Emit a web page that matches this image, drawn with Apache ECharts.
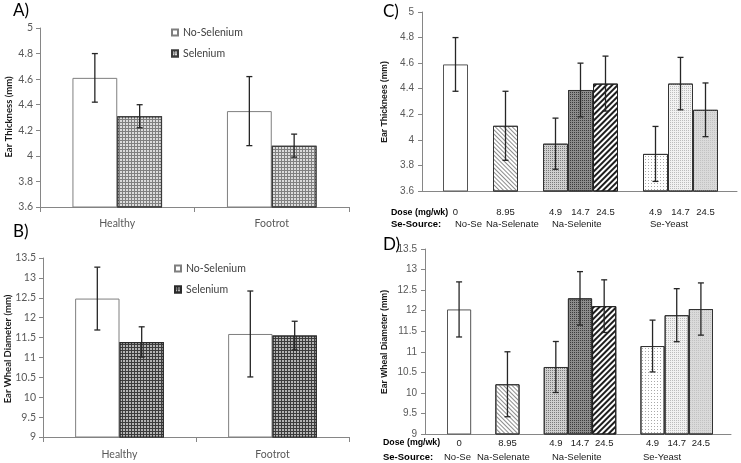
<!DOCTYPE html>
<html><head><meta charset="utf-8">
<script src="https://cdn.jsdelivr.net/npm/echarts@6/dist/echarts.min.js"></script>
<style>html,body{margin:0;padding:0;background:#fff}#c{width:741px;height:463px}</style>
</head><body><div id="c"></div>
<script>
// ---------- data ----------
const groupCategories = ['Healthy', 'Footrot'];
const legendNames = ['No-Selenium', 'Selenium'];
// Panel A: ear thickness (mm)
const thicknessNoSe = [4.61, 4.35];
const thicknessNoSeErr = [0.19, 0.27];
const thicknessSe = [4.31, 4.08];
const thicknessSeErr = [0.09, 0.09];
// Panel B: ear wheal diameter (mm)
const whealNoSe = [12.48, 11.59];
const whealNoSeErr = [0.79, 1.08];
const whealSe = [11.39, 11.55];
const whealSeErr = [0.38, 0.36];
// Panels C/D: by dose & source (blank slots separate the sources)
const doseLabels = ['0', '', '8.95', '', '4.9', '14.7', '24.5', '', '4.9', '14.7', '24.5'];
const sourceLabels = ['No-Se', 'Na-Selenate', 'Na-Selenite', 'Se-Yeast'];
const doseThickness = [4.59, null, 4.11, null, 3.97, 4.39, 4.44, null, 3.89, 4.44, 4.235];
const doseThicknessErr = [0.21, null, 0.27, null, 0.20, 0.21, 0.215, null, 0.215, 0.205, 0.21];
const doseWheal = [12.03, null, 10.21, null, 10.63, 12.30, 12.11, null, 11.14, 11.89, 12.04];
const doseWhealErr = [0.67, null, 0.79, null, 0.62, 0.65, 0.64, null, 0.63, 0.645, 0.635];
// axis scales
const thicknessAxis = {min: 3.6, max: 5, interval: 0.2};
const whealAxis = {min: 9, max: 13.5, interval: 0.5};

// ---------- styles ----------
const AX = '#868686', LBL = '#595959';
const CAL = 'Lato', ARI = 'Liberation Sans';
function dec(color, dx, dy, rot) {
  return {symbol: 'rect', symbolSize: 1, dashArrayX: dx, dashArrayY: dy, rotation: rot || 0, color: color};
}
const doseStyles = [
  {color: '#ffffff', borderColor: '#555', borderWidth: 1},
  null,
  {color: '#ffffff', borderColor: '#333', borderWidth: 1, decal: dec('#8c8c8c', [1, 0], [1, 2], Math.PI / 4)},
  null,
  {color: '#cfcfcf', borderColor: '#333', borderWidth: 1, decal: dec('#7a7a7a', [1, 1], [1, 1])},
  {color: '#8c8c8c', borderColor: '#333', borderWidth: 1, decal: dec('#3c3c3c', [1, 1], [1, 1])},
  {color: '#ffffff', borderColor: '#222', borderWidth: 1, decal: dec('#1e1e1e', [1, 0], [1.5, 2], -Math.PI / 4)},
  null,
  {color: '#ffffff', borderColor: '#333', borderWidth: 1, decal: dec('#a8a8a8', [1, 2], [1, 2])},
  {color: '#f2f2f2', borderColor: '#333', borderWidth: 1, decal: dec('#bdbdbd', [1, 1], [1, 1])},
  {color: '#dadada', borderColor: '#333', borderWidth: 1, decal: dec('#c2c2c2', [1, 1], [1, 1])}
];
const noSeStyle = {color: '#ffffff', borderColor: '#7f7f7f', borderWidth: 1};
const seStyleA = {color: '#808080', borderColor: '#3a3a3a', borderWidth: 1.2, decal: dec('#dcdcdc', [2, 1], [2, 1])};
const seStyleB = {color: '#3c3c3c', borderColor: '#2a2a2a', borderWidth: 1.2, decal: dec('#b4b4b4', [2, 1], [2, 1])};

const CAT_GAP = 0.42;           // barCategoryGap fraction for panels A/B
const BAR_FRAC = (1 - CAT_GAP) / 2;

function errRender(offsetFrac) {
  return function (params, api) {
    const x = api.value(0), v = api.value(1), e = api.value(2);
    const c = api.coord([x, v]);
    const band = api.size([1, 0])[0];
    const cx = c[0] + offsetFrac * band;
    const top = api.coord([x, v + e])[1];
    const bot = api.coord([x, v - e])[1];
    const cap = 3;
    const style = {stroke: '#262626', lineWidth: 1.3};
    return {type: 'group', children: [
      {type: 'line', shape: {x1: cx, y1: top, x2: cx, y2: bot}, style: style},
      {type: 'line', shape: {x1: cx - cap, y1: top, x2: cx + cap, y2: top}, style: style},
      {type: 'line', shape: {x1: cx - cap, y1: bot, x2: cx + cap, y2: bot}, style: style}
    ]};
  };
}
function errData(vals, errs) {
  const out = [];
  vals.forEach(function (v, i) { if (v != null) out.push([i, v, errs[i]]); });
  return out;
}

function valAxis(grid, scale, font, size, margin, show) {
  return {type: 'value', gridIndex: grid, min: scale.min, max: scale.max, interval: scale.interval, show: show !== false,
    axisLine: {show: true, lineStyle: {color: AX}}, axisTick: {show: true, length: 4, lineStyle: {color: AX}},
    splitLine: {show: false},
    axisLabel: {color: LBL, fontFamily: font, fontSize: size, margin: margin}};
}
function groupAxis(grid, margin) {
  return {type: 'category', gridIndex: grid, data: groupCategories,
    axisLine: {lineStyle: {color: AX}}, axisTick: {show: true, length: 5, lineStyle: {color: AX}},
    axisLabel: {color: LBL, fontFamily: CAL, fontSize: 10.5, margin: margin}};
}
function frameX(grid) {
  return {type: 'category', gridIndex: grid, data: [''], axisLine: {lineStyle: {color: AX}},
    axisTick: {show: false}, axisLabel: {show: false}};
}
function doseX(grid, margin) {
  return {type: 'category', gridIndex: grid, data: doseLabels, axisLine: {show: false}, axisTick: {show: false},
    axisLabel: {interval: 0, color: '#1a1a1a', fontFamily: ARI, fontSize: 9.5, margin: margin}};
}
function doseBars(xi, vals) {
  return {type: 'bar', xAxisIndex: xi, yAxisIndex: xi, barCategoryGap: '0%',
    data: vals.map(function (v, i) { return v == null ? '-' : {value: v, itemStyle: doseStyles[i]}; })};
}
function txt(x, y, text, o) {
  o = o || {};
  return {type: 'text', x: x, y: y, rotation: o.rot || 0, silent: true,
    style: {text: text, fill: o.fill || '#000', fontSize: o.size || 9.5, fontFamily: o.font || ARI,
      fontWeight: o.weight || 'normal', align: o.align || 'left', verticalAlign: 'middle',
      textAlign: o.align || 'left', textVerticalAlign: 'middle'}};
}

const chart = echarts.init(document.getElementById('c'), null, {renderer: 'canvas'});
const graphics = [
  txt(13, 11, 'A)', {font: CAL, size: 17}),
  txt(13, 232, 'B)', {font: CAL, size: 17}),
  txt(383, 12, 'C)', {font: CAL, size: 17}),
  txt(383, 245, 'D)', {font: CAL, size: 17}),
  txt(9, 117, 'Ear Thickness (mm)', {font: CAL, size: 9.5, weight: 'bold', align: 'center', rot: Math.PI / 2, fill: '#1a1a1a'}),
  txt(8, 349, 'Ear Wheal Diameter (mm)', {font: CAL, size: 9.5, weight: 'bold', align: 'center', rot: Math.PI / 2, fill: '#1a1a1a'}),
  txt(385, 102, 'Ear Thicknees (mm)', {size: 8.6, weight: 'bold', align: 'center', rot: Math.PI / 2, fill: '#1a1a1a'}),
  txt(385, 342, 'Ear Wheal Diameter (mm)', {size: 8.6, weight: 'bold', align: 'center', rot: Math.PI / 2, fill: '#1a1a1a'}),
  txt(391, 213, 'Dose (mg/wk)', {weight: 'bold', size: 8.8}),
  txt(391, 224, 'Se-Source:', {weight: 'bold', size: 9.5}),
  txt(383, 443, 'Dose (mg/wk)', {weight: 'bold', size: 8.8}),
  txt(383, 457, 'Se-Source:', {weight: 'bold', size: 9.5})
];
const srcXC = [455, 486, 552, 650], srcXD = [444, 477, 552, 643];
sourceLabels.forEach(function (s, i) {
  graphics.push(txt(srcXC[i], 224, s, {fill: '#1a1a1a'}));
  graphics.push(txt(srcXD[i], 457, s, {fill: '#1a1a1a'}));
});

chart.setOption({
  animation: false,
  backgroundColor: '#fff',
  grid: [
    {left: 40, top: 28, width: 309, height: 179},
    {left: 43, top: 258, width: 306, height: 179},
    {left: 422, top: 12, width: 315, height: 179},
    {left: 443, top: 12, width: 275, height: 179},
    {left: 425, top: 249, width: 306, height: 185},
    {left: 447, top: 249, width: 266, height: 185}
  ],
  xAxis: [groupAxis(0, 11), groupAxis(1, 12), frameX(2), doseX(3, 16), frameX(4), doseX(5, 4)],
  yAxis: [
    valAxis(0, thicknessAxis, CAL, 10.5, 7),
    valAxis(1, whealAxis, CAL, 10.5, 7),
    valAxis(2, thicknessAxis, ARI, 10, 8),
    valAxis(3, thicknessAxis, ARI, 10, 8, false),
    valAxis(4, whealAxis, ARI, 10, 8),
    valAxis(5, whealAxis, ARI, 10, 8, false)
  ],
  legend: [
    {left: 171, top: 27, padding: 0, orient: 'vertical', icon: 'rect', itemWidth: 6, itemHeight: 6, itemGap: 10,
      data: legendNames, textStyle: {color: '#404040', fontFamily: CAL, fontSize: 10.5}},
    {left: 174, top: 263, padding: 0, orient: 'vertical', icon: 'rect', itemWidth: 6, itemHeight: 6, itemGap: 10,
      data: legendNames.map(function (n) { return n + ' '; }),
      formatter: function (n) { return n.trim(); },
      textStyle: {color: '#404040', fontFamily: CAL, fontSize: 10.5}}
  ],
  graphic: graphics,
  series: [
    {type: 'bar', name: legendNames[0], xAxisIndex: 0, yAxisIndex: 0, barCategoryGap: (CAT_GAP * 100) + '%', barGap: '0%', itemStyle: noSeStyle, data: thicknessNoSe},
    {type: 'bar', name: legendNames[1], xAxisIndex: 0, yAxisIndex: 0, barCategoryGap: (CAT_GAP * 100) + '%', barGap: '0%', itemStyle: seStyleA, data: thicknessSe},
    {type: 'bar', name: legendNames[0] + ' ', xAxisIndex: 1, yAxisIndex: 1, barCategoryGap: (CAT_GAP * 100) + '%', barGap: '0%', itemStyle: noSeStyle, data: whealNoSe},
    {type: 'bar', name: legendNames[1] + ' ', xAxisIndex: 1, yAxisIndex: 1, barCategoryGap: (CAT_GAP * 100) + '%', barGap: '0%', itemStyle: seStyleB, data: whealSe},
    doseBars(3, doseThickness),
    doseBars(5, doseWheal),
    {type: 'custom', xAxisIndex: 0, yAxisIndex: 0, z: 5, renderItem: errRender(-BAR_FRAC / 2), data: errData(thicknessNoSe, thicknessNoSeErr)},
    {type: 'custom', xAxisIndex: 0, yAxisIndex: 0, z: 5, renderItem: errRender(BAR_FRAC / 2), data: errData(thicknessSe, thicknessSeErr)},
    {type: 'custom', xAxisIndex: 1, yAxisIndex: 1, z: 5, renderItem: errRender(-BAR_FRAC / 2), data: errData(whealNoSe, whealNoSeErr)},
    {type: 'custom', xAxisIndex: 1, yAxisIndex: 1, z: 5, renderItem: errRender(BAR_FRAC / 2), data: errData(whealSe, whealSeErr)},
    {type: 'custom', xAxisIndex: 3, yAxisIndex: 3, z: 5, renderItem: errRender(0), data: errData(doseThickness, doseThicknessErr)},
    {type: 'custom', xAxisIndex: 5, yAxisIndex: 5, z: 5, renderItem: errRender(0), data: errData(doseWheal, doseWhealErr)}
  ]
});
</script></body></html>
